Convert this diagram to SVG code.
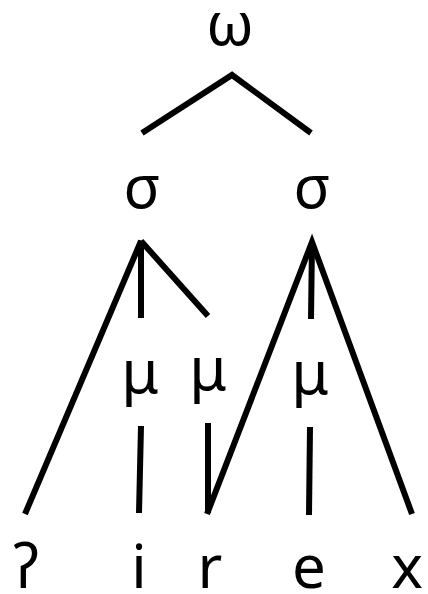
<svg xmlns="http://www.w3.org/2000/svg" width="428" height="594" viewBox="0 0 428 594">
<style>
.t{font-family:"Noto Sans","DejaVu Sans",sans-serif;font-size:60px;fill:#000;text-anchor:middle}
.c{fill:none;stroke:#000;stroke-width:6;stroke-linecap:butt;stroke-linejoin:miter}
</style>
<rect width="428" height="594" fill="#fff"/>
<g id="connectors">
<polyline class="c" points="142,133 232,75 311,133"/>
<polyline class="c" points="25,514 141,241 141,318"/>
<line class="c" x1="141" y1="241" x2="208" y2="316"/>
<polyline class="c" points="207,514 312,242 412,514"/>
<line class="c" x1="312" y1="242" x2="311" y2="319"/>
<line class="c" x1="141" y1="426" x2="139" y2="513"/>
<line class="c" x1="208" y1="423" x2="208" y2="513"/>
<line class="c" x1="310" y1="427" x2="309" y2="515"/>
</g>
<g id="n-omega"><text class="t" x="230" y="45">ω</text></g>
<g id="n-sigma1"><text class="t" x="142" y="208">σ</text></g>
<g id="n-sigma2"><text class="t" x="312" y="208">σ</text></g>
<g id="n-mu1"><text class="t" x="140" y="393">μ</text></g>
<g id="n-mu2"><text class="t" x="208" y="390">μ</text></g>
<g id="n-mu3"><text class="t" x="310" y="394">μ</text></g>
<g id="n-glottal"><text class="t" x="26" y="588">ʔ</text></g>
<g id="n-i"><text class="t" x="139" y="588">i</text></g>
<g id="n-r"><text class="t" x="210" y="588">r</text></g>
<g id="n-e"><text class="t" x="309" y="588">e</text></g>
<g id="n-x"><text class="t" x="407" y="588">x</text></g>
</svg>
